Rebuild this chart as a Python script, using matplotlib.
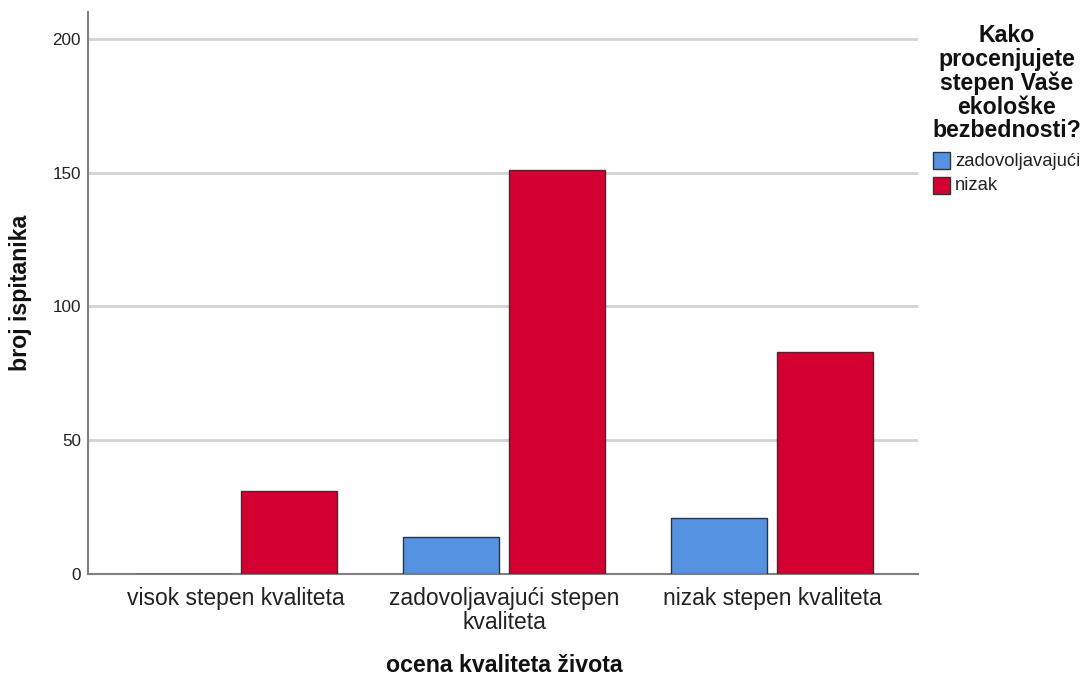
import matplotlib
matplotlib.use("Agg")
import matplotlib.pyplot as plt
import numpy as np
from matplotlib.patches import Rectangle

plt.rcParams['font.family'] = ['Liberation Sans', 'DejaVu Sans']

categories = ["visok stepen kvaliteta", "zadovoljavajući stepen\nkvaliteta", "nizak stepen kvaliteta"]
series_names = ["zadovoljavajući", "nizak"]
zadovoljavajuci = [0, 14, 21]
nizak = [31, 151, 83]
y_ticks = [0, 50, 100, 150, 200]

blue = "#5593E2"
red = "#D50032"

fig = plt.figure(figsize=(10.85, 6.77), dpi=100)
ax = fig.add_axes([88/1085, 1 - 574/677, (918-88)/1085, (574-12)/677])

x = np.arange(len(categories))
w = 0.358
off = 0.198
ax.bar(x - off, zadovoljavajuci, w, color=blue, edgecolor="#333333", linewidth=1.0, zorder=3)
ax.bar(x + off, nizak, w, color=red, edgecolor="#333333", linewidth=1.0, zorder=3)

ax.set_xlim(-0.552, 2.545)
ax.set_ylim(0, 210)
ax.set_yticks(y_ticks)
ax.set_yticklabels([str(v) for v in y_ticks], fontsize=12.3, color="#222222")
ax.set_xticks(x)
ax.set_xticklabels(categories, fontsize=16.5, color="#222222", linespacing=1.1)
ax.tick_params(axis='both', length=0)
ax.tick_params(axis='y', pad=5)
ax.tick_params(axis='x', pad=9)

ax.yaxis.grid(True, color="#D3D3D3", linewidth=2, zorder=0)
ax.set_axisbelow(True)
for s in ["top", "right"]:
    ax.spines[s].set_visible(False)
for s in ["left", "bottom"]:
    ax.spines[s].set_color("#808080")
    ax.spines[s].set_linewidth(1.5)

fig.text(21/1085, 1 - 293/677, "broj ispitanika", rotation=90, ha="center", va="center",
         fontsize=16.7, fontweight="bold", color="#111111")
fig.text(504/1085, 1 - 666/677, "ocena kvaliteta života", ha="center", va="center",
         fontsize=16.7, fontweight="bold", color="#111111")

fig.text(1007/1085, 1 - 24/677, "Kako\nprocenjujete\nstepen Vaše\nekološke\nbezbednosti?",
         ha="center", va="top", fontsize=16.7, fontweight="bold", color="#111111", linespacing=1.04)

for i, (name, c) in enumerate(zip(series_names, [blue, red])):
    y0 = 152 + i * 25
    fig.patches.append(Rectangle((933/1085, 1 - (y0 + 17)/677), 17/1085, 17/677,
                                 transform=fig.transFigure, facecolor=c,
                                 edgecolor="#333333", linewidth=1.0))
    fig.text(955/1085, 1 - (y0 + 9)/677, name, ha="left", va="center",
             fontsize=13.3, color="#222222")

fig.savefig("out.png", dpi=100)
